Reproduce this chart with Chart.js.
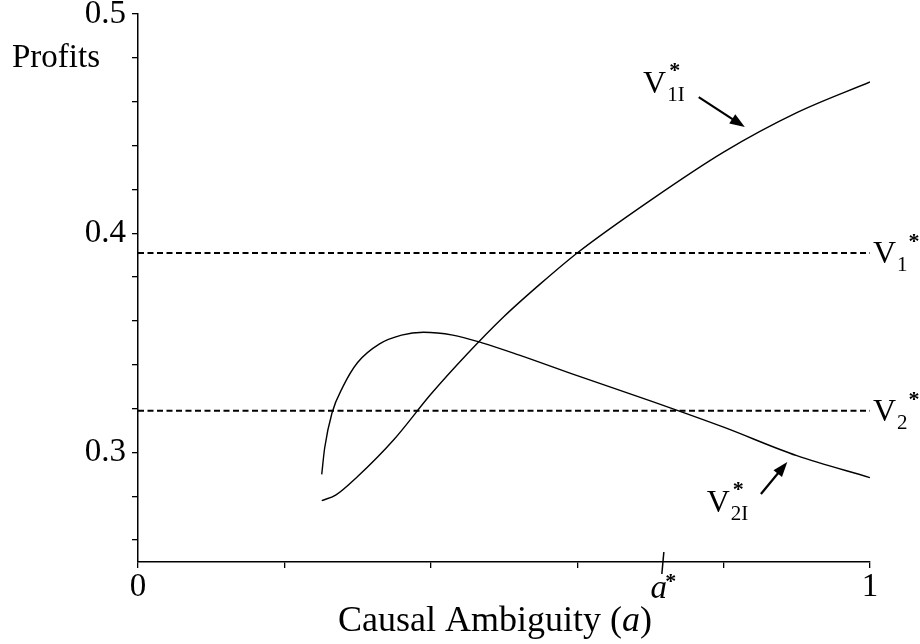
<!DOCTYPE html>
<html>
<head>
<meta charset="utf-8">
<script src="https://cdn.jsdelivr.net/npm/chart.js@4"></script>
<style>
  html, body { margin: 0; padding: 0; background: #fff; }
  canvas { display: block; }
</style>
</head>
<body>
<canvas id="grafico" width="920" height="644"></canvas>
<script>
// datos
const v1iX = [0.251, 0.27, 0.30, 0.35, 0.40, 0.45, 0.50, 0.55, 0.60, 0.70, 0.80, 0.90, 1.0];
const v1iY = [0.278, 0.2805, 0.289, 0.306, 0.3265, 0.345, 0.362, 0.377, 0.391, 0.415, 0.437, 0.455, 0.469];

const v2iX = [0.251, 0.255, 0.265, 0.28, 0.30, 0.33, 0.36, 0.39, 0.43, 0.47, 0.52, 0.60, 0.70, 0.80, 0.90, 1.0];
const v2iY = [0.290, 0.302, 0.318, 0.330, 0.341, 0.3495, 0.3535, 0.3548, 0.3535, 0.350, 0.3445, 0.335, 0.3235, 0.3115, 0.2985, 0.2885];

const v1Star = 0.391;
const v2Star = 0.319;
const aStar = 0.717;

const yTickValues = [0.26, 0.28, 0.30, 0.32, 0.34, 0.36, 0.38, 0.40, 0.42, 0.44, 0.46, 0.48, 0.50];
const yLabelValues = [0.3, 0.4, 0.5];
const xTickValues = [0, 0.2, 0.4, 0.6, 0.8, 1];
const xLabelValues = [0, 1];

const fuente = '"Liberation Serif", "Times New Roman", serif';

const puntos = (xs, ys) => xs.map((x, i) => ({x: x, y: ys[i]}));
const tieneEtiqueta = (lista, v) => lista.some(l => Math.abs(l - v) < 1e-9);

// dibuja V con subindice y asterisco
function dibujarV(ctx, x, y, sub, apilado) {
  ctx.font = '32px ' + fuente;
  ctx.textBaseline = 'alphabetic';
  ctx.textAlign = 'left';
  ctx.fillText('V', x, y);
  const wV = ctx.measureText('V').width;
  ctx.font = '21px ' + fuente;
  ctx.fillText(sub, x + wV + 1, y + 8);
  const wS = ctx.measureText(sub).width;
  ctx.font = 'bold 22px ' + fuente;
  if (apilado) {
    ctx.fillText('*', x + wV + 3, y - 16);
  } else {
    ctx.fillText('*', x + wV + wS + 2, y - 15);
  }
}

function flecha(ctx, x1, y1, x2, y2) {
  const ang = Math.atan2(y2 - y1, x2 - x1);
  const largo = 15, ancho = 5.5;
  ctx.beginPath();
  ctx.moveTo(x1, y1);
  ctx.lineTo(x2 - Math.cos(ang) * largo * 0.8, y2 - Math.sin(ang) * largo * 0.8);
  ctx.lineWidth = 2.2;
  ctx.stroke();
  ctx.beginPath();
  ctx.moveTo(x2, y2);
  ctx.lineTo(x2 - Math.cos(ang) * largo - Math.sin(ang) * ancho, y2 - Math.sin(ang) * largo + Math.cos(ang) * ancho);
  ctx.lineTo(x2 - Math.cos(ang) * largo + Math.sin(ang) * ancho, y2 - Math.sin(ang) * largo - Math.cos(ang) * ancho);
  ctx.closePath();
  ctx.fill();
}

const etiquetas = {
  id: 'etiquetas',
  afterDraw(chart) {
    const ctx = chart.ctx;
    const xs = chart.scales.x, ys = chart.scales.y;
    const area = chart.chartArea;
    ctx.save();
    ctx.fillStyle = '#000';
    ctx.strokeStyle = '#000';

    // Profits
    ctx.font = '33px ' + fuente;
    ctx.textAlign = 'left';
    ctx.textBaseline = 'alphabetic';
    ctx.fillText('Profits', 12, 67);

    // titulo eje x
    const partes = [['Causal Ambiguity (', '36px '], ['a', 'italic 36px '], [')', '36px ']];
    let total = 0;
    partes.forEach(p => { ctx.font = p[1] + fuente; total += ctx.measureText(p[0]).width; });
    let px = (area.left + area.right) / 2 - 9 - total / 2;
    partes.forEach(p => {
      ctx.font = p[1] + fuente;
      ctx.fillText(p[0], px, 631);
      px += ctx.measureText(p[0]).width;
    });

    // marca a*
    const xa = xs.getPixelForValue(aStar);
    ctx.beginPath();
    ctx.lineWidth = 1.5;
    ctx.moveTo(xa + 1, area.bottom - 10);
    ctx.lineTo(xa - 1, area.bottom + 12);
    ctx.stroke();
    ctx.font = 'italic 33px ' + fuente;
    ctx.textAlign = 'center';
    ctx.fillText('a', xa - 4, 598);
    ctx.font = 'bold 22px ' + fuente;
    ctx.fillText('*', xa + 8, 588);

    // etiquetas de las lineas
    dibujarV(ctx, xs.getPixelForValue(1) + 3, ys.getPixelForValue(v1Star) + 10, '1', false);
    dibujarV(ctx, xs.getPixelForValue(1) + 3, ys.getPixelForValue(v2Star) + 10, '2', false);
    dibujarV(ctx, xs.getPixelForValue(0.69), ys.getPixelForValue(0.464), '1I', true);
    dibujarV(ctx, xs.getPixelForValue(0.777), ys.getPixelForValue(0.2727), '2I', true);

    // flechas
    flecha(ctx, xs.getPixelForValue(0.766), ys.getPixelForValue(0.4621), xs.getPixelForValue(0.829), ys.getPixelForValue(0.4484));
    flecha(ctx, xs.getPixelForValue(0.851), ys.getPixelForValue(0.281), xs.getPixelForValue(0.887), ys.getPixelForValue(0.2956));
    ctx.restore();
  }
};

new Chart(document.getElementById('grafico'), {
  type: 'line',
  data: {
    datasets: [
      { data: puntos(v1iX, v1iY), borderColor: '#000', borderWidth: 1.4, pointRadius: 0, tension: 0.4, cubicInterpolationMode: 'monotone' },
      { data: puntos(v2iX, v2iY), borderColor: '#000', borderWidth: 1.4, pointRadius: 0, tension: 0.4, cubicInterpolationMode: 'monotone' },
      { data: puntos([0, 1], [v1Star, v1Star]), borderColor: '#000', borderWidth: 2, borderDash: [6, 3.5], pointRadius: 0 },
      { data: puntos([0, 1], [v2Star, v2Star]), borderColor: '#000', borderWidth: 2, borderDash: [6, 3.5], pointRadius: 0 }
    ]
  },
  options: {
    responsive: false,
    animation: false,
    devicePixelRatio: 1,
    layout: { padding: { left: 0, top: 14, right: 50, bottom: 0 } },
    plugins: { legend: { display: false }, tooltip: { enabled: false } },
    scales: {
      x: {
        type: 'linear',
        min: 0,
        max: 1,
        afterBuildTicks: scale => { scale.ticks = xTickValues.map(v => ({value: v})); },
        afterFit: scale => { scale.height = 82; scale.paddingLeft = 0; scale.paddingRight = 0; },
        grid: { drawOnChartArea: false, drawTicks: true, tickLength: 6, color: '#000', lineWidth: 1.3 },
        border: { color: '#000', width: 1.5 },
        ticks: {
          color: '#000',
          padding: 3,
          maxRotation: 0,
          autoSkip: false,
          font: { family: fuente, size: 33, lineHeight: 1 },
          callback: v => tieneEtiqueta(xLabelValues, v) ? String(v) : ''
        }
      },
      y: {
        min: 0.25,
        max: 0.5,
        afterBuildTicks: scale => { scale.ticks = yTickValues.map(v => ({value: v})); },
        afterFit: scale => { scale.width = 138; scale.paddingTop = 0; scale.paddingBottom = 0; },
        grid: { drawOnChartArea: false, drawTicks: true, tickLength: 6, color: '#000', lineWidth: 1.3 },
        border: { color: '#000', width: 1.5 },
        ticks: {
          color: '#000',
          padding: 6,
          autoSkip: false,
          font: { family: fuente, size: 33, lineHeight: 1 },
          callback: v => tieneEtiqueta(yLabelValues, v) ? v.toFixed(1) : ''
        }
      }
    }
  },
  plugins: [etiquetas]
});
</script>
</body>
</html>
